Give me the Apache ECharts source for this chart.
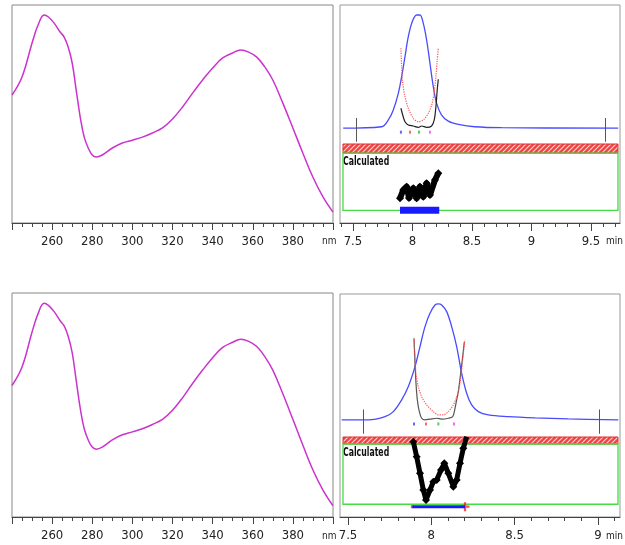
<!DOCTYPE html>
<html>
<head>
<meta charset="utf-8">
<script src="https://cdn.jsdelivr.net/npm/echarts@6/dist/echarts.min.js"></script>
<style>
html, body { margin: 0; padding: 0; background: #fff; }
#container { width: 625px; height: 545px; }
</style>
</head>
<body>
<div id="container"></div>
<script>
// UV spectrum (same in both left panels)
var wl     = [240,245,250,253,256,258,261,264,266,268,270,272,274,276,278,280,282,285,290,295,300,305,310,315,320,325,330,335,340,345,350,354,358,362,366,370,375,380,385,390,395,400];
var absorb = [58.7,67,82.6,90.8,95.4,94.6,91.7,87.6,85.3,80.7,73.4,61,48.6,39.4,34.4,31.2,30.3,31.2,34.4,36.7,38,39.4,41.3,43.6,47.7,53.2,59.6,65.6,71.1,75.7,78,79.4,78.4,76.1,71.6,65.6,55,43.6,32,21,12,5];

// top right: chromatogram
var tcTR = [7.418,7.741,7.797,7.839,7.881,7.909,7.937,7.965,7.998,8.035,8.063,8.091,8.119,8.147,8.175,8.203,8.245,8.301,8.385,8.525,8.750,9.729];
var icTR = [0,0.012,0.067,0.148,0.283,0.418,0.580,0.743,0.864,0.919,0.919,0.851,0.716,0.527,0.337,0.202,0.107,0.058,0.032,0.012,0.004,0];
var trTR = [7.903,7.909,7.918,7.937,7.965,8.007,8.049,8.091,8.133,8.161,8.181,8.197,8.208,8.217];
var rTR  = [0.649,0.499,0.364,0.256,0.162,0.080,0.053,0.067,0.121,0.188,0.283,0.418,0.554,0.649];
var tbTR = [7.903,7.918,7.937,7.965,8.007,8.049,8.077,8.119,8.161,8.183,8.197,8.208,8.217];
var bTR  = [0.162,0.107,0.053,0.026,0.018,0.007,0.018,0.007,0.018,0.067,0.175,0.310,0.397];
var tzTR = [7.895,7.923,7.951,7.971,8.007,8.035,8.063,8.091,8.119,8.147,8.189,8.217];
var zTR  = [0.182,0.307,0.357,0.187,0.333,0.182,0.357,0.206,0.408,0.232,0.458,0.559];
var markTR = [7.53, 9.62];
var dotsTR = [7.903, 7.979, 8.055, 8.147];
var barTR  = [7.895, 8.225];
var ticksTR = [7.5, 8, 8.5, 9, 9.5];

// bottom right
var tcBR = [7.462,7.622,7.722,7.772,7.822,7.862,7.902,7.932,7.962,7.992,8.022,8.042,8.062,8.092,8.122,8.152,8.182,8.212,8.242,8.282,8.342,8.462,8.622,8.822,9.122];
var icBR = [0,0,0.026,0.066,0.159,0.265,0.423,0.582,0.741,0.847,0.913,0.921,0.913,0.860,0.741,0.582,0.370,0.212,0.119,0.066,0.040,0.026,0.016,0.008,0];
var trBR = [7.896,7.902,7.908,7.922,7.942,7.972,8.012,8.042,8.072,8.102,8.132,8.156,8.172,8.182,8.192,8.202];
var rBR  = [0.635,0.502,0.370,0.264,0.185,0.119,0.066,0.040,0.040,0.066,0.119,0.198,0.291,0.397,0.529,0.635];
var tbBR = [7.896,7.902,7.908,7.916,7.928,7.942,7.962,7.992,8.032,8.062,8.102,8.128,8.138,8.148,8.162,8.176,8.188,8.198];
var bBR  = [0.648,0.450,0.291,0.159,0.066,0.013,0,0.006,0.013,0.006,0.013,0.026,0.066,0.132,0.225,0.370,0.502,0.621];
var tzBR = [7.892,7.912,7.932,7.952,7.968,7.992,8.012,8.032,8.058,8.078,8.102,8.132,8.152,8.172,8.192,8.212];
var zBR  = [0.930,0.707,0.461,0.212,0.064,0.212,0.336,0.361,0.510,0.609,0.461,0.262,0.361,0.609,0.832,1.004];
var markBR = [7.59, 9.01];
var dotsBR = [7.896, 7.968, 8.042, 8.136];
var barBR  = [7.886, 8.202];
var ticksBR = [7.5, 8, 8.5, 9];

var dotColors = ['#4040ff', '#ff4040', '#30c030', '#ff40ff'];

function pairs(xs, ys) {
    var out = [];
    for (var i = 0; i < xs.length; i++) out.push([xs[i], ys[i]]);
    return out;
}
function steps(a, b) {
    var out = [];
    for (var v = Math.round(a * 10); v <= Math.round(b * 10); v++) out.push(v / 10);
    return out;
}

// red hatch pattern
var hatch = document.createElement('canvas');
hatch.width = 5; hatch.height = 5;
var hc = hatch.getContext('2d');
hc.fillStyle = '#ee4444';
hc.fillRect(0, 0, 5, 5);
hc.strokeStyle = '#ffd0d0';
hc.lineWidth = 1.2;
hc.beginPath();
hc.moveTo(-1, 6); hc.lineTo(6, -1);
hc.moveTo(-1, 1); hc.lineTo(1, -1);
hc.moveTo(4, 6); hc.lineTo(6, 4);
hc.stroke();

var FONT = '"DejaVu Sans Condensed", "Liberation Sans Narrow", "Liberation Sans", Arial, sans-serif';
var dom   = document.getElementById('container');
var chart = echarts.init(dom, null, {renderer: 'canvas'});

var TR = {min: 7.391, max: 9.744};
var BR = {min: 7.452, max: 9.132};

function frameGrid(l, t, w, h, col) {
    return {left: l, top: t, width: w, height: h, show: true, borderColor: col || '#999', borderWidth: 1, backgroundColor: 'transparent', outerBoundsMode: 'none'};
}
function plainGrid(l, t, w, h) {
    return {left: l, top: t, width: w, height: h, outerBoundsMode: 'none'};
}
function hiddenX(grid, r) {
    return {type: 'value', gridIndex: grid, min: r.min, max: r.max, show: false};
}
function hiddenY(grid, mn, mx) {
    return {type: 'value', gridIndex: grid, min: mn, max: mx, show: false};
}
function labelAxis(grid, r, ticks) {
    return {
        type: 'value', gridIndex: grid, position: 'bottom', min: r.min, max: r.max,
        axisLine: {show: true, lineStyle: {color: '#444', width: 1}},
        axisTick: {show: true, customValues: ticks, length: 8, lineStyle: {color: '#444'}},
        axisLabel: {customValues: ticks, margin: 12, fontSize: 13, color: '#222', fontFamily: FONT},
        splitLine: {show: false}
    };
}
function minorAxis(grid, r) {
    return {
        type: 'value', gridIndex: grid, position: 'bottom', min: r.min, max: r.max,
        axisLine: {show: false},
        axisTick: {show: true, customValues: steps(Math.ceil(r.min * 10) / 10, Math.floor(r.max * 10) / 10), length: 4, lineStyle: {color: '#444'}},
        axisLabel: {show: false},
        splitLine: {show: false}
    };
}
function nmAxis(grid) {
    return {
        type: 'value', gridIndex: grid, min: 240, max: 400, interval: 20,
        axisLine: {show: true, lineStyle: {color: '#444', width: 1}},
        axisTick: {show: true, length: 7, lineStyle: {color: '#444'}},
        minorTick: {show: true, splitNumber: 4, length: 4, lineStyle: {color: '#444'}},
        axisLabel: {showMinLabel: false, showMaxLabel: false, margin: 12, fontSize: 13, color: '#222', fontFamily: FONT},
        splitLine: {show: false}
    };
}

function spectrum(i) {
    return {
        type: 'line', xAxisIndex: i, yAxisIndex: i, data: pairs(wl, absorb),
        smooth: 0.4, showSymbol: false, lineStyle: {color: '#cc33cc', width: 1.5}, silent: true
    };
}
function chromSeries(ax, tc, ic, tr, r, tb, b, marks, dots, greyCol) {
    var ml = [];
    for (var i = 0; i < marks.length; i++) {
        ml.push([{coord: [marks[i], 0.083]}, {coord: [marks[i], -0.11]}]);
    }
    var dd = [];
    for (var j = 0; j < dots.length; j++) {
        dd.push({value: [dots[j], -0.032], itemStyle: {color: dotColors[j]}});
    }
    return [
        {type: 'line', xAxisIndex: ax, yAxisIndex: ax, data: pairs(tc, ic), smooth: 0.35, showSymbol: false,
         lineStyle: {color: '#4a4aff', width: 1.3}, silent: true,
         markLine: {silent: true, symbol: ['none', 'none'], label: {show: false},
                    lineStyle: {color: '#555', width: 1, type: 'solid'}, data: ml}},
        {type: 'line', xAxisIndex: ax, yAxisIndex: ax, data: pairs(tb, b), smooth: 0.3, showSymbol: false,
         lineStyle: {color: greyCol, width: 1.2}, silent: true},
        {type: 'line', xAxisIndex: ax, yAxisIndex: ax, data: pairs(tr, r), smooth: 0.3, showSymbol: false,
         lineStyle: {color: '#ff5555', width: 1.2, type: 'dotted'}, silent: true},
        {type: 'scatter', xAxisIndex: ax, yAxisIndex: ax, data: dd, symbol: 'rect', symbolSize: [2, 3], silent: true}
    ];
}
function calcSeries(ax, tz, z, hatchLow, box, bar, barWidth, barY, zw, zs) {
    return [
        {type: 'line', xAxisIndex: ax, yAxisIndex: ax, data: [], silent: true,
         markArea: {silent: true, label: {show: false}, data: [
            [{coord: [box[0], hatchLow], itemStyle: {color: {image: hatch, repeat: 'repeat'}, borderColor: '#e03030', borderWidth: 1}},
             {coord: [box[1], 1]}],
            [{coord: [box[0], 0], itemStyle: {color: 'rgba(0,0,0,0)', borderColor: '#44dd44', borderWidth: 1.3}},
             {coord: [box[1], hatchLow]}]
         ]}},
        {type: 'line', xAxisIndex: ax, yAxisIndex: ax, data: [[bar[0], barY], [bar[1], barY]], showSymbol: false,
         lineStyle: {color: '#1a1aff', width: barWidth}, silent: true},
        {type: 'line', xAxisIndex: ax, yAxisIndex: ax, data: pairs(tz, z), showSymbol: true, symbol: 'diamond', symbolSize: zs,
         itemStyle: {color: '#000'}, lineStyle: {color: '#000', width: zw, join: 'round'}, silent: true}
    ];
}

var series = [spectrum(0), spectrum(1)];
series = series.concat(chromSeries(4, tcTR, icTR, trTR, rTR, tbTR, bTR, markTR, dotsTR, '#222'));
series = series.concat(calcSeries(5, tzTR, zTR, 0.864, [7.416, 9.727], barTR, 7, 0, 6, 8));
series = series.concat(chromSeries(8, tcBR, icBR, trBR, rBR, tbBR, bBR, markBR, dotsBR, '#555'));
series = series.concat(calcSeries(9, tzBR, zBR, 0.896, [7.47, 9.12], barBR, 3, -0.036, 5, 8));
// red marks at the ends of the bottom bar
series.push({type: 'scatter', xAxisIndex: 9, yAxisIndex: 9, silent: true,
    data: [{value: [barBR[0], -0.036], symbol: 'rect', symbolSize: [3, 3]},
           {value: [barBR[1], -0.036], symbol: 'path://M3,0H5V3H8V5H5V8H3V5H0V3H3Z', symbolSize: 9}],
    itemStyle: {color: '#ff2020'}});

option = {
    animation: false,
    grid: [
        frameGrid(12, 5, 321, 218, '#888'),      // 0 top left
        frameGrid(12, 293, 321, 224, '#888'),    // 1 bottom left
        frameGrid(340, 5, 280, 218),     // 2 top right frame
        plainGrid(340, 5, 280, 138),     // 3 top right chromatogram
        plainGrid(340, 144, 280, 73),    // 4 top right calculated
        frameGrid(340, 294, 280, 223),   // 5 bottom right frame
        plainGrid(340, 294, 280, 141),   // 6 bottom right chromatogram
        plainGrid(340, 437, 280, 74)     // 7 bottom right calculated
    ],
    xAxis: [
        nmAxis(0),
        nmAxis(1),
        minorAxis(2, TR),
        labelAxis(2, TR, ticksTR),
        hiddenX(3, TR),
        hiddenX(4, TR),
        minorAxis(5, BR),
        labelAxis(5, BR, ticksBR),
        hiddenX(6, BR),
        hiddenX(7, BR)
    ],
    yAxis: [
        hiddenY(0, 0, 100),
        hiddenY(1, 0, 100),
        hiddenY(2, 0, 1),
        hiddenY(2, 0, 1),
        hiddenY(3, -0.12, 1),
        hiddenY(4, -0.1, 1),
        hiddenY(5, 0, 1),
        hiddenY(5, 0, 1),
        hiddenY(6, -0.12, 1),
        hiddenY(7, -0.1, 1)
    ],
    graphic: [
        {type: 'text', left: 322, top: 236, style: {text: 'nm', fontSize: 10, fontFamily: FONT, fill: '#222'}},
        {type: 'text', left: 322, top: 531, style: {text: 'nm', fontSize: 10, fontFamily: FONT, fill: '#222'}},
        {type: 'text', left: 606, top: 236, style: {text: 'min', fontSize: 10, fontFamily: FONT, fill: '#222'}},
        {type: 'text', left: 606, top: 531, style: {text: 'min', fontSize: 10, fontFamily: FONT, fill: '#222'}},
        {type: 'text', left: 343, top: 156, scaleX: 0.72, style: {text: 'Calculated', fontSize: 12, fontWeight: 'bold', fontFamily: FONT, fill: '#111'}},
        {type: 'text', left: 343, top: 447, scaleX: 0.72, style: {text: 'Calculated', fontSize: 12, fontWeight: 'bold', fontFamily: FONT, fill: '#111'}}
    ],
    series: series
};

chart.setOption(option, true);
</script>
</body>
</html>
